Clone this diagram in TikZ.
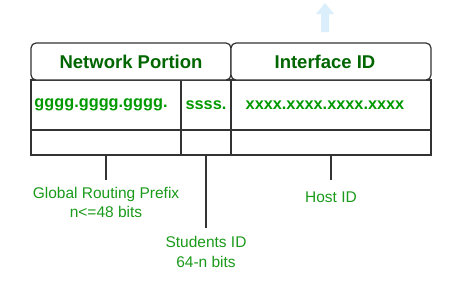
\documentclass[tikz,border=0pt]{standalone}
\usepackage{fontspec}
\setmainfont{Liberation Sans}
\definecolor{hdrgreen}{HTML}{006600}
\definecolor{txtgreen}{HTML}{009900}
\definecolor{lblgreen}{HTML}{1A9A1A}
\definecolor{edge}{HTML}{333333}
\definecolor{arrowblue}{HTML}{DAEEFB}
\begin{document}
\begin{tikzpicture}[x=1pt,y=-1pt,
  hdr/.style={draw=edge,line width=1.2pt,rounded corners=5pt,minimum height=37pt,inner sep=0pt,
    font=\fontsize{18.5}{20}\selectfont\bfseries,text=hdrgreen},
  cell/.style={draw=edge,line width=1.2pt,inner sep=0pt,font=\fontsize{16.3}{18}\selectfont\bfseries,text=txtgreen},
  lbl/.style={align=center,font=\fontsize{15.5}{19.5}\selectfont,text=lblgreen,inner sep=0pt},
  conn/.style={draw=edge,line width=1.2pt}]
\useasboundingbox (0,0) rectangle (450,281);
% arrow
\fill[arrowblue] (321,32) -- (321,14) -- (316,14) -- (325,3) -- (334,14) -- (329,14) -- (329,32) -- cycle;
% cells
\node[cell,minimum width=150pt,minimum height=50pt] (g1) at (106,105) {gggg.gggg.gggg.\kern10pt};
\node[cell,minimum width=50pt,minimum height=50pt] (s1) at (206,105) {ssss.};
\node[cell,minimum width=200pt,minimum height=50pt] (x1) at (331,105) {xxxx.xxxx.xxxx.xxxx\kern12pt};
\node[cell,minimum width=150pt,minimum height=25pt] (g2) at (106,142.5) {};
\node[cell,minimum width=50pt,minimum height=25pt] (s2) at (206,142.5) {};
\node[cell,minimum width=200pt,minimum height=25pt] (x2) at (331,142.5) {};
% headers
\node[hdr,minimum width=200pt,fill=white] (np) at (131,61.5) {Network Portion};
\node[hdr,minimum width=200pt,fill=white] (ii) at (331,61.5) {Interface ID\kern12pt};
% connectors
\coordinate (gend) at (106,180);
\coordinate (send) at (206,228);
\coordinate (hend) at (331,180);
\draw[conn] (g2.south) -- (gend);
\draw[conn] (s2.south) -- (send);
\draw[conn] (x2.south) -- (hend);
% labels
\node[lbl] (glbl) at (106,202.5) {Global Routing Prefix\\n<=48 bits};
\node[lbl] (slbl) at (206,252) {Students ID\\64-n bits};
\node[lbl] (hlbl) at (331,197) {Host ID};
\end{tikzpicture}
\end{document}
